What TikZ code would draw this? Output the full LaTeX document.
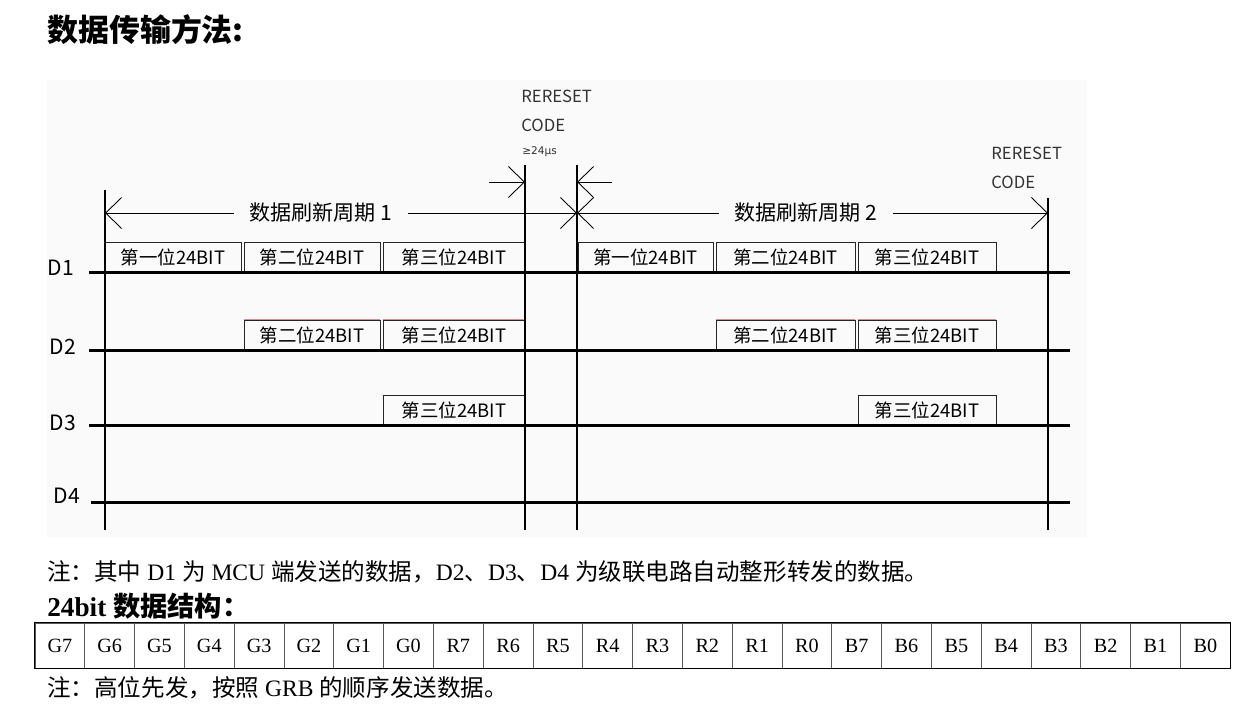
\documentclass[tikz,border=0pt]{standalone}
\usepackage{fontspec}
\setmainfont{Liberation Serif}
\newfontfamily\cjk{Noto Sans CJK SC}
\newfontfamily\dejavu{DejaVu Sans}
\usepackage{tikz}
\usetikzlibrary{arrows.meta}
\tikzset{>={Straight Barb[length=3.2mm,width=6.2mm]}}
\tikzstyle{bitbox} = [rectangle, draw=black!85, line width=0.5pt, minimum height=0.6cm, inner sep=0pt, font=\cjk\fontsize{10.5}{12}\selectfont]
\tikzstyle{dline} = [-, line width=1.7pt]
\tikzstyle{vline} = [-, line width=0.8pt]
\tikzstyle{dim} = [line width=0.5pt]
\tikzstyle{pinktop} = [-, line width=0.6pt, draw=red!45!gray!60]
\tikzstyle{lbl} = [font=\cjk\fontsize{12}{14}\selectfont, inner xsep=0.3cm]
\tikzstyle{chan} = [font=\cjk\fontsize{12}{14}\selectfont, inner sep=0pt]
\tikzstyle{rst} = [anchor=west, inner sep=0pt, text=black!80, font=\cjk\fontsize{9.5}{11}\selectfont]
\tikzstyle{cell} = [rectangle, draw=black!65, minimum width=0.996cm, minimum height=0.9cm, inner sep=0pt, font=\fontsize{11.5}{13}\selectfont]
\tikzstyle{note} = [anchor=west, inner sep=0pt, font=\fontsize{13.4}{15}\selectfont]
\newcommand\zh[1]{{\cjk #1}}

\begin{document}
\begin{tikzpicture}[x=0.02cm, y=-0.02cm]
 \useasboundingbox (0,0) rectangle (1243,707);
 \fill [black!2] (47,80) rectangle (1087,537);
 \node [anchor=west, inner sep=0pt, font=\cjk\bfseries\fontsize{17.6}{19}\selectfont] (title) at (47,30) {数据传输方法:};

 \node [rst] (rs1) at (521,96) {RERESET};
 \node [rst] (rc1) at (521,125) {CODE};
 \node [rst, font=\dejavu\fontsize{6}{7}\selectfont] (rt1) at (522,152) {≥24μs};
 \node [rst] (rs2) at (991,153) {RERESET};
 \node [rst] (rc2) at (991,182) {CODE};

 \coordinate (v1t) at (105,190);
 \coordinate (v1b) at (105,530);
 \coordinate (v2t) at (525,165);
 \coordinate (v2b) at (525,530);
 \coordinate (v3t) at (577,165);
 \coordinate (v3b) at (577,530);
 \coordinate (v4t) at (1048,198);
 \coordinate (v4b) at (1048,530);

 \node [bitbox, minimum width=2.72cm] (d1a) at (173,257) {第一位24BIT};
 \node [bitbox, minimum width=2.72cm] (d1b) at (312,257) {第二位24BIT};
 \node [bitbox, minimum width=2.84cm] (d1c) at (454,257) {第三位24BIT};
 \node [bitbox, minimum width=2.70cm] (d1d) at (645.5,257) {第一位24BIT};
 \node [bitbox, minimum width=2.78cm] (d1e) at (785.5,257) {第二位24BIT};
 \node [bitbox, minimum width=2.76cm] (d1f) at (927,257) {第三位24BIT};

 \node [bitbox, minimum width=2.72cm] (d2b) at (312,335) {第二位24BIT};
 \node [bitbox, minimum width=2.84cm] (d2c) at (454,335) {第三位24BIT};
 \node [bitbox, minimum width=2.78cm] (d2e) at (785.5,335) {第二位24BIT};
 \node [bitbox, minimum width=2.76cm] (d2f) at (927,335) {第三位24BIT};
 \draw [pinktop] (d2b.north west) to (d2b.north east);
 \draw [pinktop] (d2c.north west) to (d2c.north east);
 \draw [pinktop] (d2e.north west) to (d2e.north east);
 \draw [pinktop] (d2f.north west) to (d2f.north east);

 \node [bitbox, minimum width=2.84cm] (d3c) at (454,410) {第三位24BIT};
 \node [bitbox, minimum width=2.76cm] (d3f) at (927,410) {第三位24BIT};

 \draw [vline] (v1t) to (v1b);
 \draw [vline] (v2t) to (v2b);
 \draw [vline] (v3t) to (v3b);
 \draw [vline] (v4t) to (v4b);

 \node [chan] (D1) at (61,268) {D1};
 \node [chan] (D2) at (63,347) {D2};
 \node [chan] (D3) at (63,423) {D3};
 \node [chan] (D4) at (67,496) {D4};
 \coordinate (D1s) at (89,272);
 \coordinate (D1e) at (1070,272);
 \coordinate (D2s) at (89,350);
 \coordinate (D2e) at (1070,350);
 \coordinate (D3s) at (89,425);
 \coordinate (D3e) at (1070,425);
 \coordinate (D4s) at (91,502);
 \coordinate (D4e) at (1070,502);
 \draw [dline] (D1s) to (D1e);
 \draw [dline] (D2s) to (D2e);
 \draw [dline] (D3s) to (D3e);
 \draw [dline] (D4s) to (D4e);

 \node [lbl] (p1) at (321,213) {数据刷新周期 1};
 \node [lbl] (p2) at (806,213) {数据刷新周期 2};
 \coordinate (p1s) at (105,213);
 \coordinate (p1e) at (577,213);
 \coordinate (p2e) at (1048,213);
 \draw [dim, <-] (p1s) to (p1.west);
 \draw [dim, ->] (p1.east) to (p1e);
 \draw [dim, <-] (p1e) to (p2.west);
 \draw [dim, ->] (p2.east) to (p2e);

 \coordinate (r1s) at (489,182);
 \coordinate (r1e) at (525,182);
 \coordinate (r2s) at (612,182);
 \coordinate (r2e) at (577,182);
 \draw [dim, ->] (r1s) to (r1e);
 \draw [dim, ->] (r2s) to (r2e);

 \node [note] (n1) at (47,572) {\zh{注：其中} D1 \zh{为} MCU \zh{端发送的数据，}D2\zh{、}D3\zh{、}D4 \zh{为级联电路自动整形转发的数据。}};
 \node [note, font=\bfseries\fontsize{15.5}{17}\selectfont] (n2) at (47,606) {24bit \zh{数据结构：}};
 \foreach \b [count=\i] in {G7,G6,G5,G4,G3,G2,G1,G0,R7,R6,R5,R4,R3,R2,R1,R0,B7,B6,B5,B4,B3,B2,B1,B0}
  \node [cell] (c\i) at ({35+49.8*(\i-0.5)},645.5) {\b};
 \draw [line width=0.9pt] (c1.north west) rectangle (c24.south east);
 \node [note] (n3) at (47,688) {\zh{注：高位先发，按照} GRB \zh{的顺序发送数据。}};
\end{tikzpicture}
\end{document}
